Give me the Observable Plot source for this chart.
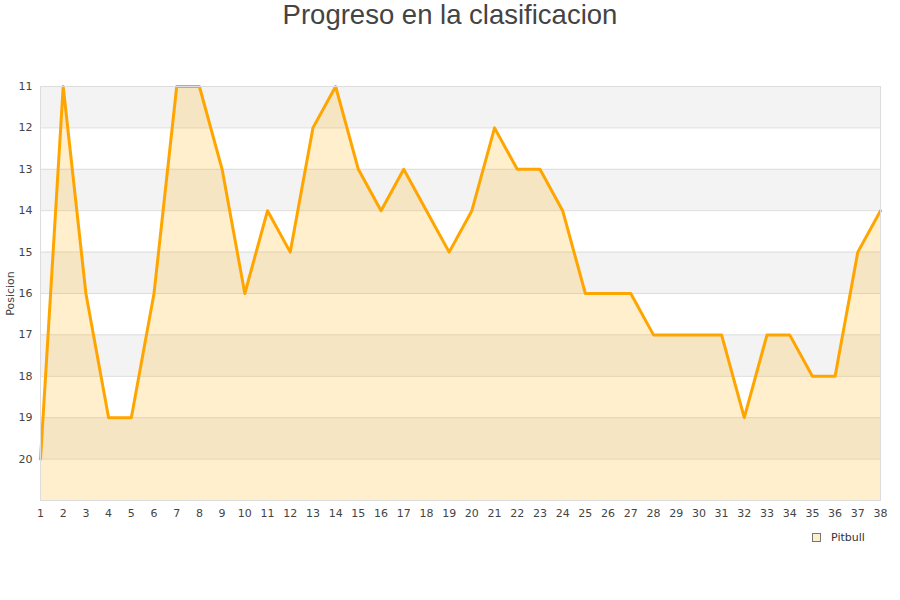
<!DOCTYPE html>
<html>
<head>
<meta charset="utf-8">
<script src="https://cdn.jsdelivr.net/npm/d3@7"></script>
<script src="https://cdn.jsdelivr.net/npm/@observablehq/plot@0.6"></script>
<style>
  body { margin: 0; background: #fff; }
  #wrap { position: relative; width: 900px; height: 600px; }
  #title { height: 40px; text-align: center; font-family: "Liberation Sans", Arial, sans-serif; font-size: 27.5px; color: #444; line-height: 30px; }
  #legend { position: absolute; left: 812px; top: 531px; font-family: "DejaVu Sans", sans-serif; font-size: 11px; color: #333; display: flex; align-items: center; }
  #legend .sw { width: 7px; height: 7px; border: 1px solid #777; background: #ffeecc; margin-right: 10px; }
</style>
</head>
<body>
<div id="wrap">
  <div id="title">Progreso en la clasificacion</div>
  <div id="chart"></div>
  <div id="legend"><span class="sw"></span><span>Pitbull</span></div>
</div>
<script>
const jornadas = d3.range(1, 39);
const posiciones = [20, 11, 16, 19, 19, 16, 11, 11, 13, 16, 14, 15, 12, 11, 13, 14, 13, 14, 15, 14, 12, 13, 13, 14, 16, 16, 16, 17, 17, 17, 17, 19, 17, 17, 18, 18, 15, 14];
const yTicks = [11, 12, 13, 14, 15, 16, 17, 18, 19, 20];
const yDomain = [11, 21];
const bandStarts = [11, 13, 15, 17, 19];
const seriesName = "Pitbull";

const data = jornadas.map((j, i) => ({jornada: j, pos: posiciones[i]}));
const bands = bandStarts.map(b => ({y1: b, y2: b + 1}));

const chart = Plot.plot({
  width: 900,
  height: 560,
  marginTop: 46,
  marginBottom: 100,
  marginLeft: 40,
  marginRight: 20,
  style: {fontFamily: "DejaVu Sans, sans-serif", fontSize: "11px", color: "#444"},
  x: {domain: [1, 38], ticks: jornadas, tickSize: 0, tickPadding: 9, label: null, tickFormat: d => d},
  y: {domain: yDomain, reverse: true, ticks: yTicks, tickSize: 0, tickPadding: 8, label: "Posicion", labelAnchor: "center", labelOffset: 34, labelArrow: "none"},
  marks: [
    Plot.rect(bands, {x1: 1, x2: 38, y1: "y1", y2: "y2", fill: "#f3f3f3"}),
    Plot.gridY(yTicks, {stroke: "#dddddd", strokeOpacity: 1}),
    Plot.areaY(data, {x: "jornada", y1: yDomain[1], y2: "pos", fill: "#ffb000", fillOpacity: 0.2}),
    Plot.line(data, {x: "jornada", y: "pos", stroke: "#ffa500", strokeWidth: 3, strokeLinejoin: "round"}),
    Plot.frame({stroke: "#dddddd"})
  ]
});
document.getElementById("chart").appendChild(chart);
document.querySelector("#legend span:last-child").textContent = seriesName;
</script>
</body>
</html>
